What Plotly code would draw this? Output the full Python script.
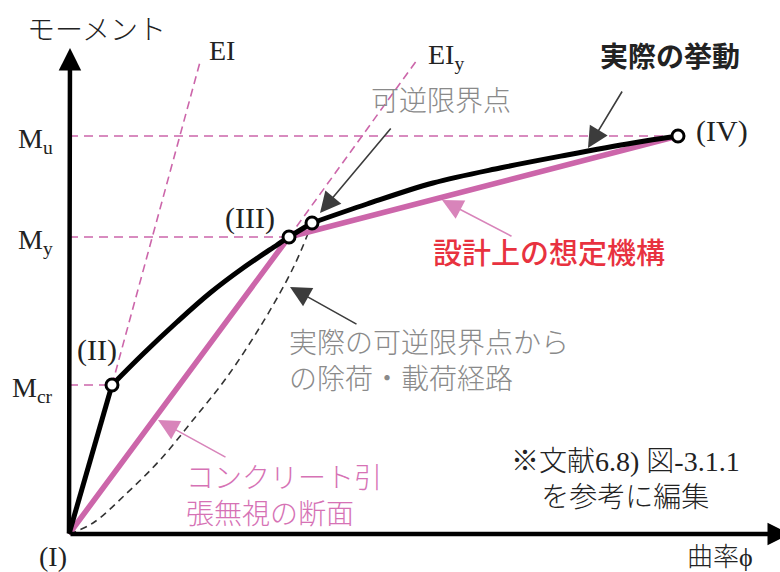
import plotly.graph_objects as go

# curvature phi / moment M, measured from point (I) in the diagram's own units
M_CR, M_Y, M_U = 149, 297, 398

moment_labels = ["M<sub>cr</sub>", "M<sub>y</sub>", "M<sub>u</sub>"]
moment_values = [M_CR, M_Y, M_U]

point_labels = ["(I)", "(II)", "(III)", "(IV)"]
point_phi = [0, 43, 220, 609]
point_m = [0, M_CR, M_Y, M_U]

rev_phi, rev_m = 243, 311  # 可逆限界点

# actual behaviour: straight to (II), curved to the reversible limit, then on to (IV)
actual_lin_phi = [0, 43]
actual_lin_m = [0, M_CR]
actual_curve_phi = [43, 74, 108, 141, 174, 208, 220, 243]
actual_curve_m = [149, 180, 212, 241, 266, 289, 297, 311]
actual_tail_phi = [243, 298, 364, 431, 498, 564, 609]
actual_tail_m = [311, 330, 351, 366, 379, 391, 398]

# design model (cracked section, tension ignored)
design_phi = [0, 220, 609]
design_m = [0, M_Y, M_U]

# unloading / reloading path from the reversible limit point
unload_phi = [0, 24, 58, 91, 124, 158, 191, 218, 231, 243]
unload_m = [0, 11, 41, 74, 114, 157, 207, 254, 281, 311]

# stiffness guide lines
ei_phi = [43, 131]
ei_m = [M_CR, 472]
eiy_phi = [220, 348]
eiy_m = [M_Y, 474]

PINK = "#CC66AA"
PINK_TXT = "#D672B5"
PINK_ARROW = "#D884BA"
RED = "#E8323F"
GRAY = "#8A8A8A"
DARK = "#3C3C3C"
FONT = "Liberation Serif, Noto Sans CJK JP"

fig = go.Figure()

# dashed reference lines
for m, phi_end in zip(moment_values, [43, 220, 609]):
    fig.add_trace(go.Scatter(x=[0, phi_end], y=[m, m], mode="lines",
                             line=dict(color=PINK, width=1.6, dash="9px,6px")))
fig.add_trace(go.Scatter(x=ei_phi, y=ei_m, mode="lines",
                         line=dict(color=PINK, width=1.6, dash="8px,5px")))
fig.add_trace(go.Scatter(x=eiy_phi, y=eiy_m, mode="lines",
                         line=dict(color=PINK, width=1.6, dash="8px,5px")))

fig.add_trace(go.Scatter(x=unload_phi, y=unload_m, mode="lines",
                         line=dict(color="#333333", width=1.6, dash="7px,5px", shape="spline")))

fig.add_trace(go.Scatter(x=design_phi, y=design_m, mode="lines",
                         line=dict(color=PINK, width=5.5)))

fig.add_trace(go.Scatter(x=actual_lin_phi, y=actual_lin_m, mode="lines",
                         line=dict(color="black", width=5)))
fig.add_trace(go.Scatter(x=actual_curve_phi, y=actual_curve_m, mode="lines",
                         line=dict(color="black", width=5, shape="spline")))
fig.add_trace(go.Scatter(x=actual_tail_phi, y=actual_tail_m, mode="lines",
                         line=dict(color="black", width=5, shape="spline")))

fig.add_trace(go.Scatter(x=point_phi[1:] + [rev_phi], y=point_m[1:] + [rev_m], mode="markers",
                         marker=dict(size=12, color="white", line=dict(color="black", width=3))))

ann = []

# axes drawn as arrows from the origin
for tip in [(1, 486), (721, 0)]:
    ann.append(dict(x=tip[0], y=tip[1], ax=0, ay=0, axref="x", ayref="y", text="",
                    showarrow=True, arrowhead=2, arrowsize=1, arrowwidth=4.5,
                    arrowcolor="black", standoff=0))


def arrow(tail, tip, color):
    ann.append(dict(x=tip[0], y=tip[1], ax=tail[0], ay=tail[1], axref="x", ayref="y",
                    text="", showarrow=True, arrowhead=2, arrowsize=2.6, arrowwidth=1.6,
                    arrowcolor=color, standoff=0))


arrow((554, 444), (519, 386), DARK)
arrow((323, 407), (251, 321), DARK)
arrow((444, 297), (373, 334), PINK_ARROW)
arrow((289, 209), (221, 247), DARK)
arrow((158, 76), (89, 114), PINK_ARROW)


def label(x, y, text, size=28, color="#222222", xanchor="center", yanchor="middle",
          align="center", weight="normal"):
    ann.append(dict(x=x, y=y, text=text, showarrow=False, xanchor=xanchor, yanchor=yanchor,
                    align=align, font=dict(family=FONT, size=size, color=color, weight=weight)))


for txt, m in zip(moment_labels, moment_values):
    label(-14, m - 4, txt, xanchor="right")

label(-16, -22, point_labels[0], size=28)
label(28, 184, point_labels[1], size=30)
label(181, 316, point_labels[2], size=30)
label(653, 403, point_labels[3], size=30)

label(153, 484, "EI")
label(357, 478, "EI<sub>y</sub>", xanchor="left")

label(27, 504, "モーメント", size=28, weight=300)
label(651, -23, "曲率ϕ", size=26, weight=300)

label(601, 477, "実際の挙動", size=28, color="#222222", weight="bold")
label(372, 433, "可逆限界点", size=28, color=GRAY, weight=300)
label(480, 280, "設計上の想定機構", size=29, color=RED, weight=500)
label(218, 173, "実際の可逆限界点から<br>の除荷・載荷経路", size=28, color=GRAY,
      xanchor="left", align="left", weight=300)
label(115, 38, "コンクリート引<br>張無視の断面", size=28, color=PINK_TXT,
      xanchor="left", align="left", weight=300)
label(556, 55, "※文献6.8) 図-3.1.1<br>を参考に編集", size=28, color="#222222", weight=300)

fig.update_layout(
    width=780, height=572,
    margin=dict(l=0, r=0, t=0, b=0, autoexpand=False),
    paper_bgcolor="white", plot_bgcolor="white",
    showlegend=False,
    xaxis=dict(range=[-69, 711], visible=False),
    yaxis=dict(range=[-38, 534], visible=False),
    annotations=ann,
)

# drop the browser's default body margin so the figure sits at the page corner
fig.write_html("out.html", config={"displayModeBar": False},
               post_script="document.body.style.margin = '0';")
